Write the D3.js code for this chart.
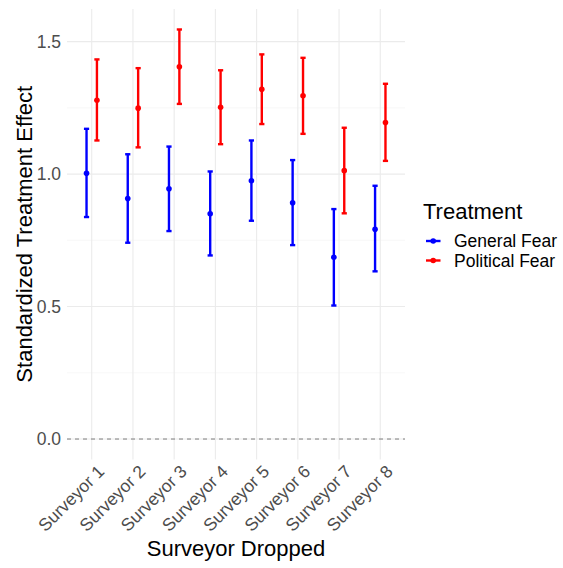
<!DOCTYPE html>
<html>
<head>
<meta charset="utf-8">
<script src="https://cdn.jsdelivr.net/npm/d3@7"></script>
<style>
  body { margin: 0; background: #fff; }
  text { font-family: "Liberation Sans", Arial, sans-serif; }
</style>
</head>
<body>
<div id="root"></div>
<script>
const surveyors = ['Surveyor 1', 'Surveyor 2', 'Surveyor 3', 'Surveyor 4', 'Surveyor 5', 'Surveyor 6', 'Surveyor 7', 'Surveyor 8']
const treatments = ['General Fear', 'Political Fear']
const colors = ['#0000FF', '#FF0000']

// estimates and CI bounds
const general_est = [1.003, 0.908, 0.945, 0.850, 0.975, 0.892, 0.686, 0.792]
const general_lo = [0.838, 0.741, 0.785, 0.693, 0.824, 0.732, 0.504, 0.633]
const general_hi = [1.171, 1.075, 1.104, 1.010, 1.127, 1.053, 0.868, 0.956]
const political_est = [1.279, 1.249, 1.405, 1.252, 1.320, 1.296, 1.013, 1.195]
const political_lo = [1.127, 1.101, 1.265, 1.113, 1.189, 1.152, 0.852, 1.050]
const political_hi = [1.433, 1.400, 1.546, 1.392, 1.452, 1.439, 1.175, 1.341]

const y_ticks = [0, 0.5, 1.0, 1.5]
const y_minor = [0.25, 0.75, 1.25]

const width = 563, height = 568
const panel = { left: 67, right: 405, top: 9, bottom: 459.5 }

const rows = []
surveyors.forEach((s, i) => {
    rows.push({ s: s, t: 0, est: general_est[i], lo: general_lo[i], hi: general_hi[i] })
    rows.push({ s: s, t: 1, est: political_est[i], lo: political_lo[i], hi: political_hi[i] })
})

const svg = d3.select('#root').append('svg')
    .attr('width', width).attr('height', height)

const x = d3.scalePoint().domain(surveyors)
    .range([panel.left, panel.right]).padding(0.6)
const dodge = 5.2

const ymax = d3.max(rows, d => d.hi)
const ymin = 0
const pad = (ymax - ymin) * 0.05
const y = d3.scaleLinear().domain([ymin - pad, ymax + pad])
    .range([panel.bottom, panel.top])

// grid
svg.selectAll('.minor').data(y_minor).enter().append('line')
    .attr('x1', panel.left).attr('x2', panel.right)
    .attr('y1', d => y(d)).attr('y2', d => y(d))
    .attr('stroke', '#F3F3F3').attr('stroke-width', 0.6)
svg.selectAll('.major').data(y_ticks).enter().append('line')
    .attr('x1', panel.left).attr('x2', panel.right)
    .attr('y1', d => y(d)).attr('y2', d => y(d))
    .attr('stroke', '#EBEBEB').attr('stroke-width', 1.1)
svg.selectAll('.vgrid').data(surveyors).enter().append('line')
    .attr('x1', d => x(d)).attr('x2', d => x(d))
    .attr('y1', panel.top).attr('y2', panel.bottom)
    .attr('stroke', '#EBEBEB').attr('stroke-width', 1.1)

// zero line
svg.append('line')
    .attr('x1', panel.left).attr('x2', panel.right)
    .attr('y1', y(0)).attr('y2', y(0))
    .attr('stroke', '#7F7F7F').attr('stroke-width', 1)
    .attr('stroke-dasharray', '4,4')

// error bars
const g = svg.append('g')
rows.forEach(d => {
    const cx = x(d.s) + (d.t === 0 ? -dodge : dodge)
    const c = colors[d.t]
    g.append('line').attr('x1', cx).attr('x2', cx)
        .attr('y1', y(d.lo)).attr('y2', y(d.hi))
        .attr('stroke', c).attr('stroke-width', 2.4)
    ;[d.lo, d.hi].forEach(v => {
        g.append('line').attr('x1', cx - 2.6).attr('x2', cx + 2.6)
            .attr('y1', y(v)).attr('y2', y(v))
            .attr('stroke', c).attr('stroke-width', 2.4)
    })
    g.append('circle').attr('cx', cx).attr('cy', y(d.est)).attr('r', 2.8).attr('fill', c)
})

// y axis labels
svg.selectAll('.ylab').data(y_ticks).enter().append('text')
    .attr('x', 61).attr('y', d => y(d))
    .attr('dy', '0.35em').attr('text-anchor', 'end')
    .attr('font-size', 17.5).attr('fill', '#4D4D4D')
    .text(d => d.toFixed(1))

// x axis labels
svg.selectAll('.xlab').data(surveyors).enter().append('text')
    .attr('transform', d => `translate(${x(d) + 5},${464}) rotate(-45)`)
    .attr('text-anchor', 'end').attr('dy', '0.7em')
    .attr('font-size', 17.5).attr('fill', '#4D4D4D')
    .text(d => d)

// axis titles
svg.append('text')
    .attr('x', (panel.left + panel.right) / 2).attr('y', 556)
    .attr('text-anchor', 'middle').attr('font-size', 22).attr('fill', '#000')
    .text('Surveyor Dropped')
svg.append('text')
    .attr('transform', `translate(32,${(panel.top + panel.bottom) / 2}) rotate(-90)`)
    .attr('text-anchor', 'middle').attr('font-size', 22).attr('fill', '#000')
    .text('Standardized Treatment Effect')

// legend
const leg = svg.append('g').attr('transform', 'translate(423,0)')
leg.append('text').attr('x', 0).attr('y', 218.5)
    .attr('font-size', 22).attr('fill', '#000').text('Treatment')
treatments.forEach((t, i) => {
    const ly = 241 + i * 19.5
    leg.append('line').attr('x1', 3).attr('x2', 17.5).attr('y1', ly).attr('y2', ly)
        .attr('stroke', colors[i]).attr('stroke-width', 2.4)
    leg.append('circle').attr('cx', 10.2).attr('cy', ly).attr('r', 2.8).attr('fill', colors[i])
    leg.append('text').attr('x', 31).attr('y', ly).attr('dy', '0.35em')
        .attr('font-size', 17.5).attr('fill', '#000').text(t)
})
</script>
</body>
</html>
